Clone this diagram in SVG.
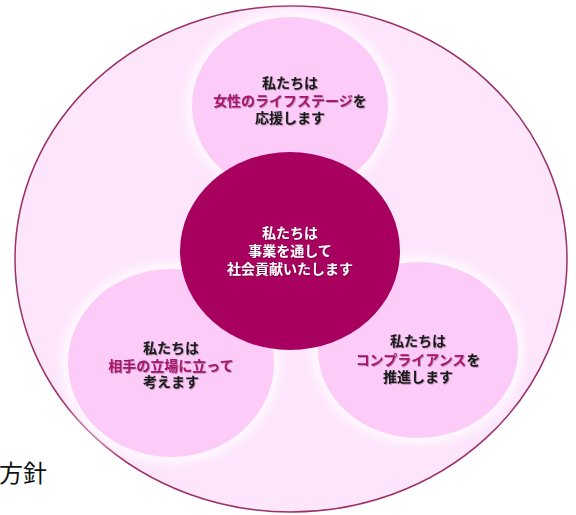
<svg xmlns="http://www.w3.org/2000/svg" width="576" height="515" viewBox="0 0 576 515">
<defs>
<filter id="sh" x="-10%" y="-30%" width="120%" height="160%"><feDropShadow dx="0.8" dy="0.8" stdDeviation="0.6" flood-color="#000" flood-opacity="0.35"/></filter>
<filter id="glow" x="-20%" y="-20%" width="140%" height="140%"><feGaussianBlur stdDeviation="3"/></filter>
</defs>
<style>
.t{font-family:"Noto Sans CJK JP","Noto Sans CJK SC",sans-serif;font-size:14px;font-weight:bold;text-anchor:middle;fill:#1a1a1a;filter:url(#sh)}
.w{fill:#ffffff}
.m{fill:#a8156c}
.halo{fill:#fff6fe;filter:url(#glow)}
.sub{fill:#fccbf8}
</style>
<rect width="576" height="515" fill="#ffffff"/>
<g id="outer"><ellipse cx="291" cy="259" rx="276" ry="253" fill="#fde6fc" stroke="#9c2f66" stroke-width="1.5"/></g>
<g id="connectors"></g>
<g id="node-top">
<ellipse cx="290" cy="106" rx="105" ry="96" class="halo"/>
<ellipse cx="290" cy="106" rx="98" ry="89" class="sub"/>
<text class="t" x="290" y="88">私たちは</text>
<text class="t" x="290" y="106"><tspan class="m">女性のライフステージ</tspan>を</text>
<text class="t" x="290" y="123">応援します</text>
</g>
<g id="node-left">
<ellipse cx="171" cy="363" rx="110" ry="101" class="halo"/>
<ellipse cx="171" cy="363" rx="103" ry="94" class="sub"/>
<text class="t" x="171" y="353">私たちは</text>
<text class="t" x="171" y="371"><tspan class="m">相手の立場に立って</tspan></text>
<text class="t" x="171" y="387">考えます</text>
</g>
<g id="node-right">
<ellipse cx="418" cy="350" rx="107" ry="95" class="halo"/>
<ellipse cx="418" cy="350" rx="100" ry="88" class="sub"/>
<text class="t" x="418" y="346">私たちは</text>
<text class="t" x="418" y="365"><tspan class="m">コンプライアンス</tspan>を</text>
<text class="t" x="418" y="382">推進します</text>
</g>
<g id="node-center">
<ellipse cx="290" cy="251" rx="110" ry="99" fill="#a8005f"/>
<text class="t w" x="290" y="238">私たちは</text>
<text class="t w" x="290" y="256">事業を通して</text>
<text class="t w" x="290" y="274">社会貢献いたします</text>
</g>
<text x="-1" y="482" font-family="Noto Sans CJK JP, sans-serif" font-size="24" fill="#111">方針</text>
</svg>
